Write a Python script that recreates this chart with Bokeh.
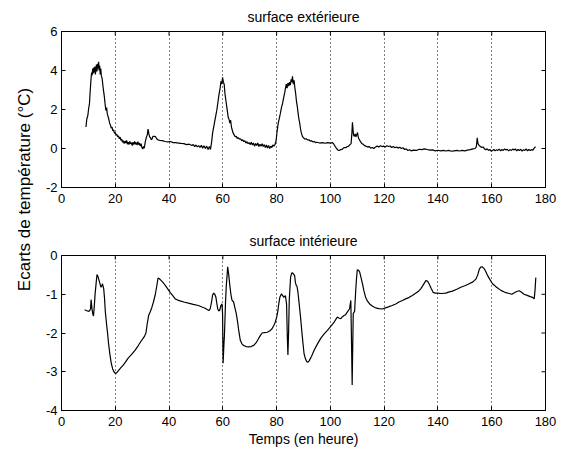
import math
from bokeh.plotting import figure
from bokeh.layouts import row, column
from bokeh.models import FixedTicker, Label, Range1d
from bokeh.embed import file_html
from bokeh.resources import INLINE

# ---------------- data ----------------
t_ext = [9.1, 9.4, 9.8, 10.1, 10.4, 10.7, 11.0, 11.2, 11.4, 11.6, 11.8, 12.0, 12.2, 12.4, 12.6, 12.8,
         13.0, 13.2, 13.4, 13.6, 13.8, 14.0, 14.2, 14.4, 14.6, 14.8, 15.1, 15.5, 15.9, 16.2, 16.5, 16.8,
         17.0, 17.3, 17.6, 17.9, 18.2, 18.5, 18.8, 19.1, 19.4, 19.7, 20.0, 20.3, 20.6, 20.9, 21.2, 21.5,
         21.8, 22.1, 22.4, 22.7, 23.0, 23.3, 23.6, 23.9, 24.2, 24.5, 24.8, 25.1, 25.4, 25.7, 26.0, 26.3,
         26.6, 26.9, 27.2, 27.5, 27.8, 28.1, 28.4, 28.7, 29.0, 29.3, 29.6, 29.9, 30.2, 30.5, 30.8, 31.1,
         31.5, 31.9, 32.2, 32.5, 32.8, 33.1, 33.4, 33.7, 34.0, 34.5, 35.0, 35.4, 35.8, 36.5, 37.5, 38.5,
         39.5, 40.5, 41.5, 42.5, 43.5, 44.5, 45.5, 46.5, 47.5, 48.5, 49.0, 49.5, 50.0, 50.5, 51.0, 51.5,
         52.0, 52.5, 53.0, 53.5, 54.0, 54.5, 55.0, 55.4, 55.8, 56.2, 56.6, 57.0, 57.4, 57.8, 58.2, 58.6,
         59.0, 59.3, 59.6, 59.9, 60.2, 60.5, 60.8, 61.1, 61.4, 61.7, 62.0, 62.3, 62.6, 62.9, 63.2, 63.5,
         63.8, 64.2, 64.6, 65.0, 65.4, 65.8, 66.2, 66.6, 67.0, 67.4, 67.8, 68.2, 68.6, 69.0, 69.4, 69.8,
         70.2, 70.6, 71.0, 71.4, 71.8, 72.2, 72.6, 73.0, 73.4, 73.8, 74.2, 74.6, 75.0, 75.4, 75.8, 76.2,
         76.6, 77.0, 77.4, 77.8, 78.2, 78.6, 79.0, 79.4, 79.8, 80.2, 80.6, 81.0, 81.4, 81.8, 82.2, 82.6,
         83.0, 83.3, 83.6, 83.9, 84.2, 84.5, 84.8, 85.1, 85.4, 85.7, 85.9, 86.2, 86.5, 86.8, 87.1, 87.4,
         87.7, 88.0, 88.3, 88.6, 88.9, 89.2, 89.6, 90.0, 90.5, 91.0, 91.5, 92.0, 92.5, 93.0, 93.5, 94.0,
         94.5, 95.0, 96.0, 97.0, 98.0, 99.0, 100.0, 100.8, 101.3, 101.8, 102.3, 102.8, 103.3, 103.8, 104.3,
         104.8, 105.3, 105.8, 106.3, 106.8, 107.3, 107.7, 108.0, 108.2, 108.4, 108.6, 108.9, 109.2, 109.5,
         109.8, 110.1, 110.4, 110.8, 111.2, 111.7, 112.2, 112.7, 113.2, 113.8, 114.4, 115.0, 115.6, 116.2,
         116.8, 117.4, 118.0, 118.6, 119.2, 119.8, 120.4, 121.0, 121.6, 122.2, 122.8, 123.4, 124.0, 124.6,
         125.2, 125.8, 126.4, 127.0, 127.6, 128.2, 128.8, 129.4, 130.0, 131.0, 132.0, 133.0, 134.0, 135.0,
         136.0, 137.0, 138.0, 139.0, 140.0, 141.0, 142.0, 143.0, 144.0, 145.0, 146.0, 147.0, 148.0, 149.0,
         150.0, 151.0, 152.0, 153.0, 153.8, 154.3, 154.6, 154.9, 155.3, 155.8, 156.3, 156.8, 157.3, 157.8,
         158.3, 158.8, 159.3, 159.8, 160.3, 160.8, 161.3, 161.8, 162.3, 162.8, 163.3, 163.8, 164.3, 164.8,
         165.3, 165.8, 166.3, 166.8, 167.3, 167.8, 168.3, 168.8, 169.3, 169.8, 170.3, 170.8, 171.3, 171.8,
         172.3, 172.8, 173.3, 173.8, 174.3, 174.8, 175.3, 175.8, 176.3]
v_ext = [1.1, 1.5, 1.7, 2.05, 2.3, 3.0, 3.6, 3.9, 3.75, 4.1, 3.85, 4.15, 3.9, 4.2, 3.8, 4.05,
         4.3, 3.95, 4.35, 4.1, 4.45, 4.0, 4.25, 3.8, 4.1, 3.75, 3.6, 3.1, 2.7, 2.3, 1.95, 2.1,
         1.8, 1.65, 1.5, 1.3, 1.2, 1.05, 1.1, 0.9, 0.95, 0.78, 0.82, 0.7, 0.72, 0.6, 0.65, 0.5,
         0.58, 0.42, 0.48, 0.32, 0.4, 0.25, 0.38, 0.28, 0.42, 0.22, 0.33, 0.2, 0.36, 0.24, 0.3, 0.15,
         0.32, 0.2, 0.36, 0.22, 0.3, 0.18, 0.35, 0.2, 0.28, 0.12, 0.25, 0.05, -0.03, 0.1, 0.02, 0.3,
         0.55, 0.7, 1.0, 0.75, 0.6, 0.55, 0.45, 0.5, 0.62, 0.62, 0.6, 0.5, 0.45, 0.42, 0.4, 0.36,
         0.34, 0.36, 0.3, 0.3, 0.28, 0.26, 0.25, 0.2, 0.22, 0.15, 0.2, 0.1, 0.18, 0.08, 0.15, 0.05,
         0.16, 0.02, 0.14, 0.0, 0.12, -0.05, 0.1, -0.05, 0.3, 0.8, 1.1, 1.4, 1.7, 2.0, 2.4, 2.8,
         3.1, 3.45, 3.3, 3.65, 3.4, 3.3, 2.8, 2.5, 2.2, 1.9, 1.6, 1.5, 1.3, 1.45, 1.1, 0.95,
         0.8, 0.7, 0.6, 0.62, 0.52, 0.55, 0.48, 0.5, 0.4, 0.45, 0.35, 0.4, 0.28, 0.35, 0.25, 0.3,
         0.2, 0.32, 0.18, 0.28, 0.12, 0.26, 0.15, 0.28, 0.1, 0.22, 0.12, 0.25, 0.1, 0.2, 0.05, 0.18,
         0.02, 0.15, 0.0, 0.12, 0.05, 0.18, 0.12, 0.2, 0.4, 0.9, 1.3, 1.55, 1.8, 2.1, 2.3, 2.6,
         2.85, 3.1, 3.3, 3.1, 3.35, 3.2, 3.4, 3.25, 3.55, 3.4, 3.7, 3.3, 3.5, 3.1, 2.8, 2.4,
         2.15, 1.8, 1.5, 1.3, 1.0, 0.8, 0.62, 0.55, 0.48, 0.5, 0.44, 0.45, 0.38, 0.4, 0.34, 0.36,
         0.3, 0.32, 0.28, 0.3, 0.27, 0.3, 0.28, 0.3, 0.22, 0.1, 0.0, -0.08, -0.1, -0.06, -0.05,
         0.02, 0.05, 0.05, 0.1, 0.12, 0.2, 0.25, 0.8, 1.35, 1.0, 0.7, 0.62, 0.75, 0.6,
         0.7, 0.82, 0.55, 0.45, 0.35, 0.25, 0.22, 0.15, 0.12, 0.08, 0.1, 0.02, 0.05, 0.0,
         0.08, 0.12, 0.08, 0.14, 0.1, 0.12, 0.08, 0.14, 0.1, 0.13, 0.05, 0.1, 0.04, 0.08,
         0.02, 0.06, 0.0, 0.04, -0.05, -0.02, -0.1, -0.06, -0.12, -0.08, -0.1, -0.04, -0.06, -0.02,
         -0.05, -0.08, -0.07, -0.12, -0.09, -0.12, -0.1, -0.13, -0.1, -0.14, -0.12, -0.1, -0.13, -0.1,
         -0.12, -0.08, -0.06, -0.02, 0.0, 0.1, 0.55, 0.25, 0.15, 0.1, 0.05, 0.08, -0.02, -0.06,
         -0.02, -0.1, -0.05, -0.14, -0.1, -0.05, -0.12, -0.06, -0.1, -0.03, -0.12, -0.05, -0.1, -0.02,
         -0.08, -0.04, -0.12, -0.06, -0.1, -0.03, -0.08, -0.02, -0.12, -0.05, -0.1, -0.04, -0.14, -0.06,
         -0.1, -0.02, -0.12, -0.05, -0.1, -0.06, -0.08, 0.02, 0.1]

t_int = [8.6, 9.2, 9.9, 10.4, 10.8, 11.0, 11.3, 11.6, 11.9, 12.2, 12.5, 12.9, 13.2, 13.6, 14.0, 14.4,
         14.7, 15.0, 15.2, 15.5, 15.7, 16.0, 16.3, 16.8, 17.2, 17.5, 18.0, 18.5, 19.0, 19.5, 20.0, 20.5,
         21.2, 22.0, 22.8, 23.7, 24.8, 26.0, 27.4, 28.5, 29.5, 30.4, 30.9, 31.4, 31.8, 32.4, 33.0, 33.6,
         34.2, 34.9, 35.4, 35.9, 36.4, 37.1, 37.8, 38.6, 39.5, 40.4, 41.3, 42.3, 43.2, 44.1, 45.5, 47.2,
         49.0, 50.9, 52.2, 53.4, 54.3, 54.8, 55.3, 55.8, 56.2, 56.6, 57.0, 57.4, 57.8, 58.1, 58.5, 58.8,
         59.3, 59.7, 59.9, 60.1, 60.4, 60.6, 61.0, 61.3, 61.6, 61.8, 62.2, 62.6, 63.0, 63.4, 64.0, 64.5,
         65.0, 65.5, 65.9, 66.5, 67.1, 67.7, 68.6, 69.6, 70.5, 71.5, 72.4, 73.3, 74.0, 74.6, 75.5, 76.5,
         77.4, 78.3, 79.0, 79.5, 80.0, 80.4, 80.8, 81.2, 81.8, 82.2, 82.7, 83.0, 83.3, 83.5, 83.7, 83.95,
         84.2, 84.45, 84.7, 85.0, 85.2, 85.5, 85.8, 86.2, 86.7, 87.0, 87.3, 87.6, 87.9, 88.4, 88.9, 89.5,
         90.2, 90.7, 91.2, 91.7, 92.1, 93.0, 94.0, 95.2, 96.4, 97.6, 98.9, 100.2, 101.4, 102.0, 102.6, 103.3,
         103.9, 104.5, 105.1, 105.6, 106.4, 107.1, 107.6, 107.85, 108.1, 108.3, 108.5, 109.0, 109.4, 109.7,
         110.0, 110.5, 110.9, 111.4, 111.9, 112.5, 113.1, 113.8, 114.6, 115.7, 116.8, 118.0, 119.3, 120.5,
         121.8, 123.0, 124.3, 125.5, 126.8, 128.0, 129.3, 130.5, 131.8, 132.8, 133.6, 134.6, 135.5, 136.1,
         136.7, 137.5, 138.2, 139.0, 139.8, 141.3, 142.9, 144.2, 145.4, 147.0, 148.5, 150.0, 151.6, 153.0,
         154.1, 154.8, 155.4, 155.9, 156.4, 156.9, 157.3, 157.9, 158.5, 159.4, 160.3, 161.8, 163.4, 164.9,
         166.5, 167.5, 168.4, 169.3, 170.2, 171.1, 172.0, 173.2, 174.3, 175.2, 175.8, 176.1, 176.4]
v_int = [-1.40, -1.42, -1.44, -1.43, -1.38, -1.14, -1.35, -1.5, -1.56, -1.3, -0.99, -0.7, -0.49, -0.55, -0.65, -0.75,
         -0.82, -0.78, -0.73, -0.8, -0.86, -1.1, -1.45, -1.8, -2.05, -2.27, -2.55, -2.78, -2.92, -3.0, -3.04, -3.03,
         -2.97, -2.9, -2.84, -2.76, -2.65, -2.56, -2.44, -2.33, -2.22, -2.13, -2.08, -2.0, -1.8, -1.55, -1.45, -1.34,
         -1.2, -1.0, -0.8, -0.58, -0.6, -0.65, -0.7, -0.77, -0.86, -0.95, -1.03, -1.12, -1.15, -1.17, -1.2, -1.23,
         -1.26, -1.29, -1.33, -1.36, -1.4, -1.42, -1.38, -1.2, -1.02, -0.97, -1.0, -1.07, -1.25, -1.38, -1.43, -1.42,
         -1.29, -1.25, -1.5, -2.78, -2.3, -2.05, -1.2, -0.77, -0.5, -0.29, -0.5, -0.77, -1.0, -1.15, -1.2, -1.35,
         -1.5, -1.72, -1.93, -2.19, -2.28, -2.32, -2.35, -2.36, -2.35, -2.32, -2.25, -2.14, -2.06, -2.0, -1.99, -1.98,
         -1.95, -1.89, -1.8, -1.72, -1.6, -1.46, -1.25, -1.08, -0.99, -1.03, -1.08, -1.05, -1.04, -1.15, -1.25, -2.0,
         -2.57, -2.0, -1.16, -0.8, -0.56, -0.48, -0.44, -0.47, -0.52, -0.7, -0.77, -0.8, -0.93, -1.25, -1.59, -2.05,
         -2.53, -2.66, -2.74, -2.75, -2.72, -2.6, -2.44, -2.28, -2.14, -2.03, -1.93, -1.82, -1.72, -1.65, -1.59, -1.62,
         -1.63, -1.58, -1.55, -1.53, -1.45, -1.38, -1.16, -2.2, -3.34, -2.4, -1.5, -1.44, -0.93, -0.6,
         -0.37, -0.38, -0.43, -0.57, -0.72, -0.92, -1.08, -1.18, -1.25, -1.31, -1.35, -1.37, -1.38, -1.35,
         -1.32, -1.29, -1.25, -1.2, -1.16, -1.12, -1.08, -1.03, -0.97, -0.92, -0.86, -0.75, -0.65, -0.66,
         -0.73, -0.85, -0.95, -0.97, -0.97, -0.98, -0.97, -0.94, -0.92, -0.87, -0.82, -0.78, -0.73, -0.68,
         -0.61, -0.5, -0.35, -0.3, -0.29, -0.32, -0.35, -0.43, -0.52, -0.63, -0.73, -0.82, -0.9, -0.95,
         -0.98, -1.0, -0.96, -0.93, -0.91, -0.95, -1.0, -1.03, -1.06, -1.08, -1.12, -0.9, -0.57]

x_ticks = [0, 20, 40, 60, 80, 100, 120, 140, 160, 180]
y_ticks_ext = [-2, 0, 2, 4, 6]
y_ticks_int = [-4, -3, -2, -1, 0]
title_ext = "surface extérieure"
title_int = "surface intérieure"
x_label = "Temps (en heure)"
y_label = "Ecarts de température (°C)"

FONT = "Liberation Sans"
TICK_SIZE = "13px"


def make_panel(t, v, yticks, title, height, top_border, bottom_border, xlabel=None):
    p = figure(width=524, height=height,
               x_range=Range1d(x_ticks[0], x_ticks[-1]),
               y_range=Range1d(yticks[0], yticks[-1]),
               output_backend="svg", toolbar_location=None,
               min_border_left=23, min_border_right=17,
               min_border_top=top_border, min_border_bottom=bottom_border,
               title=title)
    p.background_fill_color = "white"
    p.border_fill_color = "white"
    p.outline_line_color = "black"
    p.outline_line_width = 1
    p.title.text_font = FONT
    p.title.text_font_size = "14px"
    p.title.text_font_style = "normal"
    p.title.align = "center"
    p.title.standoff = 13
    p.title.text_color = "black"

    p.xaxis.ticker = FixedTicker(ticks=x_ticks)
    p.yaxis.ticker = FixedTicker(ticks=yticks)
    p.xaxis.major_label_overrides = {x: str(x) for x in x_ticks}
    p.yaxis.major_label_overrides = {y: str(y) for y in yticks}
    for ax in p.axis:
        ax.major_tick_in = 4
        ax.major_tick_out = 0
        ax.minor_tick_in = 0
        ax.minor_tick_out = 0
        ax.axis_line_color = "black"
        ax.major_tick_line_color = "black"
        ax.major_label_text_font = FONT
        ax.major_label_text_color = "black"
        ax.major_label_text_font_size = TICK_SIZE
    p.xaxis.major_label_standoff = 6
    p.yaxis.major_label_standoff = 4
    if xlabel:
        p.xaxis.axis_label = xlabel
        p.xaxis.axis_label_text_font = FONT
        p.xaxis.axis_label_text_font_size = "14px"
        p.xaxis.axis_label_text_font_style = "normal"
        p.xaxis.axis_label_text_color = "black"
        p.xaxis.axis_label_standoff = 2

    p.xgrid.ticker = FixedTicker(ticks=x_ticks)
    p.xgrid.grid_line_color = "black"
    p.xgrid.grid_line_dash = "1 3"
    p.xgrid.grid_line_width = 1
    p.ygrid.grid_line_color = None

    # box ticks on the top and right edges (half of each dash is clipped by the frame)
    p.scatter(x_ticks, [yticks[-1]] * len(x_ticks), marker="dash", size=8,
              angle=math.pi / 2, line_color="black", line_width=1)
    p.scatter([x_ticks[-1]] * len(yticks), yticks, marker="dash", size=8,
              line_color="black", line_width=1)

    p.line(t, v, line_color="black", line_width=1.2)
    return p


p_top = make_panel(t_ext, v_ext, y_ticks_ext, title_ext, 224, 30, 37)
p_bot = make_panel(t_int, v_int, y_ticks_int, title_int, 225, 29, 39, xlabel=x_label)

# narrow figure holding the shared y label
LAB_H = 449
p_lab = figure(width=38, height=LAB_H, x_range=Range1d(0, 38), y_range=Range1d(0, LAB_H),
               output_backend="svg", toolbar_location=None,
               x_axis_type=None, y_axis_type=None, min_border=0)
p_lab.outline_line_color = None
p_lab.xgrid.visible = False
p_lab.ygrid.visible = False
p_lab.add_layout(Label(x=24, y=LAB_H - 189, text=y_label, angle=math.pi / 2,
                       text_align="center", text_baseline="middle",
                       text_font=FONT, text_font_size="17px", text_color="black"))

layout = row(p_lab, column(p_top, p_bot))

open("out.html", "w").write(file_html(layout, INLINE))
